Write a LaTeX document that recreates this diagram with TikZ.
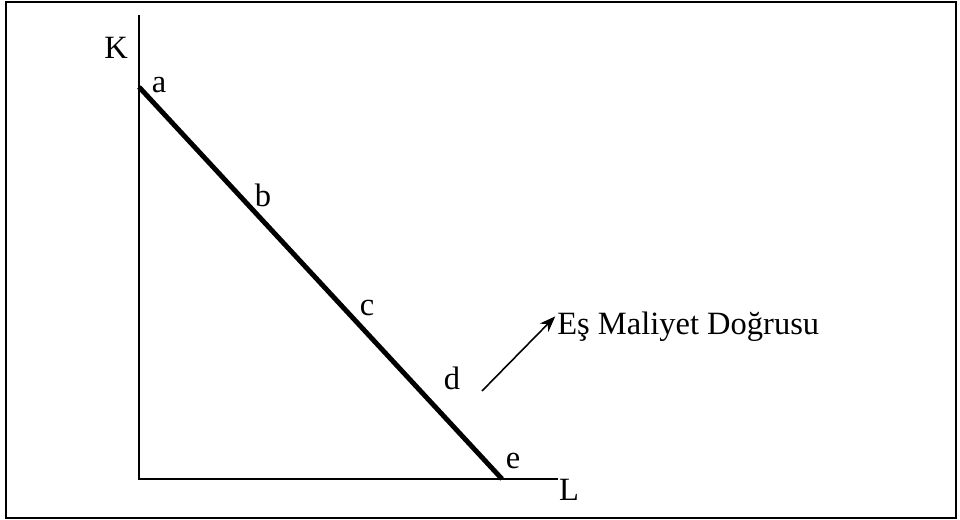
\documentclass[tikz,border=0pt]{standalone}
\usepackage{fontspec}
\setmainfont{Liberation Serif}
\usetikzlibrary{arrows.meta, positioning, calc}

\begin{document}
\begin{tikzpicture}[
    x=0.02cm, y=-0.02cm,
    axis/.style={line width=1.1pt},
    budget/.style={line width=2.8pt},
    lbl/.style={font=\fontsize{18.5}{20}\selectfont, inner sep=0pt},
    arr/.style={-{Stealth[length=3.2mm, width=2.4mm]}, line width=0.9pt},
]
\useasboundingbox (0,0) rectangle (960,520);

% frame
\draw[line width=1.1pt] (6,2) rectangle (956,518);

% axes
\coordinate (o) at (139,479);
\coordinate (ktop) at (139,15);
\coordinate (lend) at (558,479);
\draw[axis] (ktop) -- (o) -- (lend);
\node[lbl] (kl) at (116,48) {K};
\node[lbl] (ll) at (569,490) {L};

% iso-cost line
\coordinate (pa) at (139,87);
\coordinate (pe) at (502,479);
\draw[budget] (pa) -- (pe);
\node[lbl] (a) at (159,85) {a};
\node[lbl] (b) at (263,195) {b};
\node[lbl] (c) at (367,308) {c};
\node[lbl] (d) at (452,378) {d};
\node[lbl] (e) at (513,461) {e};

% label with arrow
\node[lbl, anchor=base west] (cost) at (557,334) {Eş Maliyet Doğrusu};
\coordinate (tail) at (482,391);
\draw[arr] (tail) -- ([xshift=-1pt, yshift=-3pt]cost.north west);

\end{tikzpicture}
\end{document}
